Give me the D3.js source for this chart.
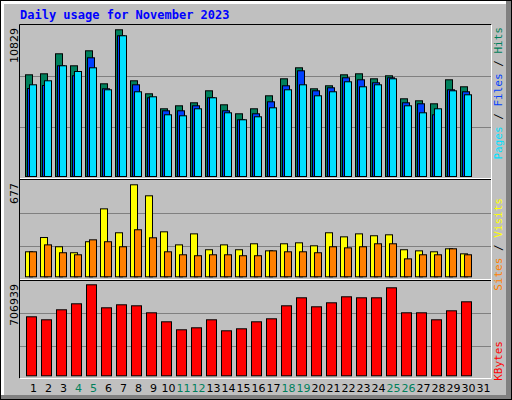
<!DOCTYPE html>
<html><head><meta charset="utf-8">
<script src="https://cdn.jsdelivr.net/npm/d3@7"></script>
<style>body{margin:0;background:#fff}</style></head><body>
<script>
const days = d3.range(1, 32);
const weekendDays = [4,5,11,12,18,19,25,26];
const hits  = [7507,7581,9058,8172,9279,6843,10829,7065,6105,4998,5219,5441,6326,5293,4629,4998,5957,7212,8024,6474,6696,7507,7581,7212,7434,5736,5588,5367,7138,6622];
const files = [6496,6718,8172,7434,8762,6474,10387,6769,5810,4850,4850,5219,5810,4850,4186,4629,5514,6696,7803,6326,6548,7286,7138,6917,7286,5441,5367,4555,6400,6253];
const pages = [6769,7065,8172,7751,8024,6400,10387,6253,5884,4555,4481,4998,5810,4702,4186,4407,5071,6400,6769,5957,6253,6991,6622,6769,7212,5219,4702,4998,6326,6031];
const visits = [184,289,221,177,258,500,324,677,596,331,235,316,199,235,199,243,191,243,250,228,324,294,316,302,309,199,191,184,206,169];
const sites  = [184,235,177,162,272,258,221,346,287,184,162,155,162,162,155,155,191,184,184,177,221,213,221,243,243,132,162,162,206,162];
const kbytes = [458342,435036,512721,559332,706939,528258,551564,543795,489416,419499,357351,372888,435036,349583,365120,419499,442805,543795,605943,536027,567101,613712,605943,605943,683628,489416,489416,435036,504953,574869];
const title = "Daily usage for November 2023";

const svg = d3.select("body").append("svg").attr("width",512).attr("height",400)
  .style("font-family","'DejaVu Sans Mono',monospace");
// background and bevels
svg.append("rect").attr("x",0).attr("y",0).attr("width",512).attr("height",400).attr("fill","#000");
svg.append("rect").attr("x",1).attr("y",1).attr("width",510).attr("height",398).attr("fill","#808080");
svg.append("rect").attr("x",1).attr("y",1).attr("width",505).attr("height",394).attr("fill","#fff");
svg.append("rect").attr("x",4).attr("y",4).attr("width",502).attr("height",391).attr("fill","#c0c0c0");

svg.append("text").attr("x",20).attr("y",19).attr("fill","#0000ff").attr("font-weight","bold")
  .attr("font-size",12).text(title);

const x = d3.scaleBand().domain(days).range([24,489]).paddingInner(0);
const L=20, R=491;
function panel(y0,y1,gl){
  svg.append("rect").attr("x",L).attr("y",y0).attr("width",R-L).attr("height",y1-y0).attr("fill","#c0c0c0");
  gl.forEach(g=>svg.append("line").attr("x1",L).attr("x2",R).attr("y1",g).attr("y2",g).attr("stroke","#808080").attr("stroke-width",1));
}
panel(25,178,[76.5,127.5]);
panel(180,279,[213.5,246.5]);
panel(281,378,[313.5,346.5]);
// frame lines
const fr = svg.append("g");
fr.append("path").attr("d",`M${L-0.5},378.5V24.5H${R+0.5}`).attr("stroke","#000").attr("fill","none");
fr.append("path").attr("d",`M${R+0.5},24.5V378.5H${L-0.5}`).attr("stroke","#fff").attr("fill","none");
[[178.5,"#fff"],[179.5,"#000"],[279.5,"#fff"],[280.5,"#000"]].forEach(([y,c])=>
  fr.append("line").attr("x1",L).attr("x2",R).attr("y1",y).attr("y2",y).attr("stroke",c));

function bars(data,y,off,w,color){
  svg.append("g").selectAll("rect").data(data).join("rect")
    .attr("x",(d,i)=>x(days[i])+off+0.5).attr("width",w)
    .attr("y",d=>y(d)+0.5).attr("height",d=>y(0)-y(d))
    .attr("fill",color).attr("stroke","#000").attr("stroke-width",1);
}
const y1 = d3.scaleLinear().domain([0,10829]).range([176,29.3]);
bars(hits,y1,1,7,"#00805c");
bars(files,y1,3,7,"#0040ff");
bars(pages,y1,5,7,"#00e0ff");
const y2 = d3.scaleLinear().domain([0,677]).range([276.3,184.3]);
bars(visits,y2,1,7,"#ffff00");
bars(sites,y2,5,7,"#ff8000");
const y3 = d3.scaleLinear().domain([0,706939]).range([375.3,284.3]);
bars(kbytes,y3,2,10,"#ff0000");

// x labels via axis
const ax = svg.append("g").attr("transform","translate(2,380)")
  .call(d3.axisBottom(x).tickSize(0).tickPadding(4));
ax.select(".domain").remove();
ax.selectAll("text").attr("font-size",11).attr("font-family","'DejaVu Sans',sans-serif")
  .attr("fill",d=>weekendDays.includes(d)?"#00805c":"#000");

// left max labels
function leftLabel(t,yTop){
  svg.append("text").attr("transform",`translate(18,${yTop}) rotate(-90)`).attr("text-anchor","end")
    .attr("font-size",11).attr("font-family","'DejaVu Sans',sans-serif").attr("fill","#000").text(t);
}
leftLabel(d3.format("d")(10829),28);
leftLabel("677",183);
leftLabel("706939",284);

function rightLabel(parts,yTop){
  const t = svg.append("text").attr("transform",`translate(502,${yTop}) rotate(-90)`).attr("text-anchor","end")
    .attr("font-size",11).attr("font-family","'DejaVu Sans Mono',monospace");
  parts.forEach(([s,c])=>t.append("tspan").attr("fill",c).text(s));
}
rightLabel([["Pages","#00e0ff"],[" / ","#000"],["Files","#0040ff"],[" / ","#000"],["Hits","#00805c"]],27);
rightLabel([["Sites","#ff8000"],[" / ","#000"],["Visits","#ffff00"]],198);
rightLabel([["KBytes","#ff0000"]],341);
</script></body></html>
